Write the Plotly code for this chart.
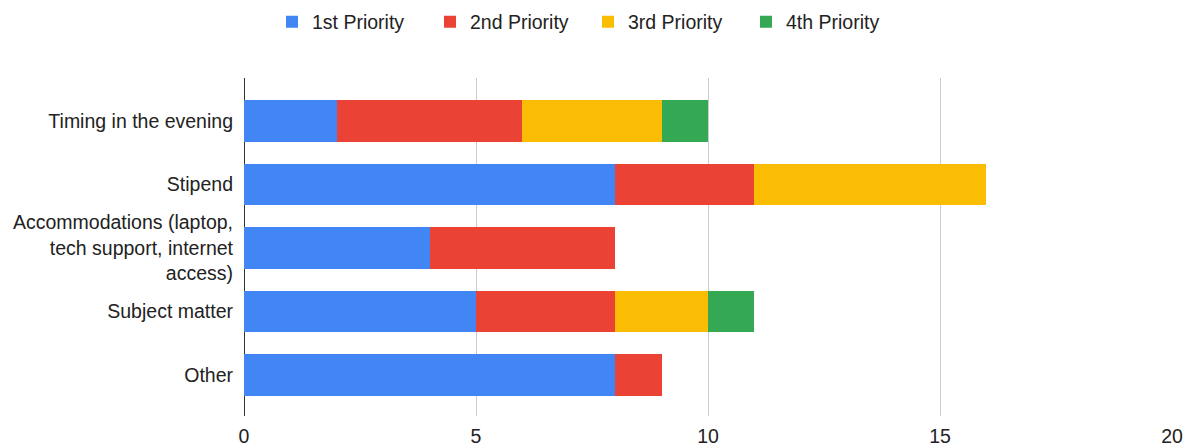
import plotly.graph_objects as go

categories = ["Timing in the evening", "Stipend",
              "Accommodations (laptop,<br>tech support, internet<br>access)",
              "Subject matter", "Other"]
series_names = ["1st Priority", "2nd Priority", "3rd Priority", "4th Priority"]
first = [2, 8, 4, 5, 8]
second = [4, 3, 4, 3, 1]
third = [3, 5, 0, 2, 0]
fourth = [1, 0, 0, 1, 0]
colors = ["#4285F4", "#EA4335", "#FBBC04", "#34A853"]
x_ticks = [0, 5, 10, 15, 20]

fig = go.Figure()
for name, vals, c in zip(series_names, [first, second, third, fourth], colors):
    fig.add_trace(go.Bar(y=categories, x=vals, name=name, orientation="h",
                         marker=dict(color=c, line=dict(width=0))))

# page body has an 8px default margin, so the figure is sized/offset to compensate
fig.update_layout(
    barmode="stack", bargap=0.34,
    width=1187, height=437,
    margin=dict(l=236, r=23, t=70, b=29, autoexpand=False),
    paper_bgcolor="white", plot_bgcolor="white",
    font=dict(family="Liberation Sans, Arial, sans-serif", size=19.5, color="#222222"),
    legend=dict(orientation="h", xref="container", yref="container",
                x=0.2224, xanchor="left", y=0.968, yanchor="middle",
                font=dict(size=19.5, color="#222222"), itemwidth=30,
                entrywidth=113, entrywidthmode="pixels",
                traceorder="normal"),
    showlegend=True,
)
fig.update_xaxes(range=[0, 20], tickvals=x_ticks, showgrid=True, gridcolor="#cccccc",
                 gridwidth=1, zeroline=True, zerolinecolor="#333333", zerolinewidth=1,
                 showline=False, ticks="", ticklabelstandoff=6, automargin=False)
fig.update_yaxes(range=[4.646, -0.677], autorange=False, showgrid=False, zeroline=False,
                 showline=False, ticks="", ticklabelstandoff=10, automargin=False)

fig.write_html("out.html")
